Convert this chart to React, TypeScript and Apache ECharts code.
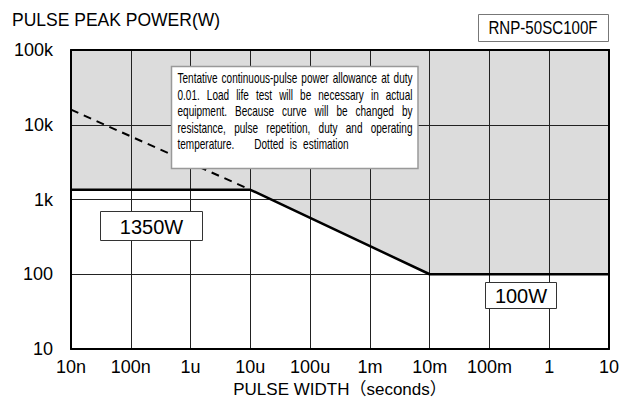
import React, { useEffect, useRef } from "react";
import * as echarts from "echarts";

// ---- data ----
const xTickLabels = ["10n", "100n", "1u", "10u", "100u", "1m", "10m", "100m", "1", "10"];
const yTickLabels = ["10", "100", "1k", "10k", "100k"];
const ratingWidth = [1e-8, 1e-5, 1e-2, 10];
const ratingPower = [1350, 1350, 100, 100];
const estWidth = [1e-8, 1e-5];
const estPower = [15900, 1350];
const noteLines = [
  "Tentative continuous-pulse power allowance at duty",
  "0.01.   Load life test will be necessary in actual",
  "equipment. Because curve will be changed by",
  "resistance, pulse repetition, duty and operating",
  "temperature.   Dotted is estimation",
];

const FONT = '"Liberation Sans", Arial, "Noto Sans CJK JP", sans-serif';

function buildNote(): any[] {
  const fs = 14;
  const left = 177.5;
  const right = 412.5;
  const canvas = document.createElement("canvas");
  const ctx = canvas.getContext("2d")!;
  ctx.font = `${fs}px "Liberation Sans"`;
  const m = (s: string) => ctx.measureText(s).width;
  const w0 = noteLines[0].split(/\s+/).reduce((a, w) => a + m(w), 0);
  const sx = (right - left - 5 * 4) / w0;
  const els: any[] = [];
  const last = noteLines.length - 1;
  noteLines.forEach((line, i) => {
    const y = 78.5 + 16.5 * i;
    const words = line.split(/\s+/);
    const ws = words.map((w) => m(w) * sx);
    const sum = ws.reduce((a, b) => a + b, 0);
    let gaps: number[];
    if (i === last) {
      gaps = words.map((_, k) => (k === 0 ? 20 : 6));
    } else {
      const g = (right - left - sum) / (words.length - 1);
      gaps = words.map(() => g);
    }
    let x = left;
    words.forEach((w, k) => {
      els.push({
        type: "text", x, y, scaleX: sx, z: 102,
        style: { text: w, font: `${fs}px ${FONT}`, fill: "#000", textVerticalAlign: "middle", textAlign: "left" },
      });
      x += ws[k] + gaps[k];
    });
  });
  return els;
}

export default function App() {
  const ref = useRef<HTMLDivElement>(null);
  useEffect(() => {
    document.body.style.margin = "0";
    const chart = echarts.init(ref.current!, null, { renderer: "svg" });
    const rating = ratingWidth.map((w, i) => [w, ratingPower[i]]);
    const est = estWidth.map((w, i) => [w, estPower[i]]);
    const xFmt = (v: number) => xTickLabels[Math.round(Math.log10(v)) + 8] ?? "";
    const yFmt = (v: number) => yTickLabels[Math.round(Math.log10(v)) - 1] ?? "";
    const gridLine = { show: true, lineStyle: { color: "#222", width: 1 } };
    const border = { show: true, lineStyle: { color: "#000", width: 2 } };
    chart.setOption({
      animation: false,
      backgroundColor: "#fff",
      grid: { left: 71, right: 19, top: 50, bottom: 63 },
      xAxis: [
        {
          type: "log", logBase: 10, min: 1e-8, max: 10, interval: 1, splitNumber: 9,
          position: "bottom", z: 3,
          axisLine: border, axisTick: { show: false }, splitLine: gridLine,
          axisLabel: { formatter: xFmt, fontSize: 18, color: "#000", margin: 9, fontFamily: FONT },
          name: "PULSE WIDTH（seconds）", nameLocation: "middle", nameGap: 31,
          nameTextStyle: { fontSize: 17, color: "#000", fontFamily: FONT },
        },
        {
          type: "log", logBase: 10, min: 1e-8, max: 10, position: "top", z: 4,
          axisLine: border, axisTick: { show: false }, splitLine: { show: false }, axisLabel: { show: false },
        },
      ],
      yAxis: [
        {
          type: "log", logBase: 10, min: 10, max: 100000, interval: 1, splitNumber: 4,
          position: "left", z: 3,
          axisLine: border, axisTick: { show: false }, splitLine: gridLine,
          axisLabel: { formatter: yFmt, fontSize: 18, color: "#000", margin: 18, fontFamily: FONT },
        },
        {
          type: "log", logBase: 10, min: 10, max: 100000, position: "right", z: 4,
          axisLine: border, axisTick: { show: false }, splitLine: { show: false }, axisLabel: { show: false },
        },
      ],
      series: [
        {
          type: "line", data: rating, symbol: "none", z: 1, silent: true,
          lineStyle: { width: 0 }, areaStyle: { color: "#dcdcdc", opacity: 1, origin: "end" },
        },
        {
          type: "line", data: rating, symbol: "none", z: 5, silent: true,
          lineStyle: { color: "#000", width: 2.5 },
        },
        {
          type: "line", data: est, symbol: "none", z: 5, silent: true,
          lineStyle: { color: "#000", width: 2, type: [8, 6] },
        },
      ],
      graphic: [
        {
          type: "text", x: 12, y: 20, z: 100,
          style: { text: "PULSE PEAK POWER(W)", font: `17.5px ${FONT}`, fill: "#000", textVerticalAlign: "middle" },
        },
        {
          type: "rect", z: 100, shape: { x: 478.5, y: 14.5, width: 130, height: 27 },
          style: { fill: "#fff", stroke: "#777", lineWidth: 1 },
        },
        {
          type: "text", x: 543, y: 28.5, scaleX: 0.84, z: 101,
          style: { text: "RNP-50SC100F", font: `18px ${FONT}`, fill: "#000", textAlign: "center", textVerticalAlign: "middle" },
        },
        {
          type: "rect", z: 100, shape: { x: 100.5, y: 211.5, width: 102, height: 29 },
          style: { fill: "#fff", stroke: "#333", lineWidth: 1 },
        },
        {
          type: "text", x: 151.5, y: 226.5, z: 101,
          style: { text: "1350W", font: `20px ${FONT}`, fill: "#000", textAlign: "center", textVerticalAlign: "middle" },
        },
        {
          type: "rect", z: 100, shape: { x: 485.5, y: 282.5, width: 71, height: 26 },
          style: { fill: "#fff", stroke: "#333", lineWidth: 1 },
        },
        {
          type: "text", x: 521, y: 296, z: 101,
          style: { text: "100W", font: `20px ${FONT}`, fill: "#000", textAlign: "center", textVerticalAlign: "middle" },
        },
        {
          type: "rect", z: 100, shape: { x: 171.5, y: 66.5, width: 246.5, height: 102 },
          style: { fill: "#fff", stroke: "#999", lineWidth: 1.5 },
        },
        ...buildNote(),
      ],
    });
    return () => chart.dispose();
  }, []);
  return <div ref={ref} style={{ position: "fixed", left: 0, top: 0, width: 628, height: 412 }} />;
}
